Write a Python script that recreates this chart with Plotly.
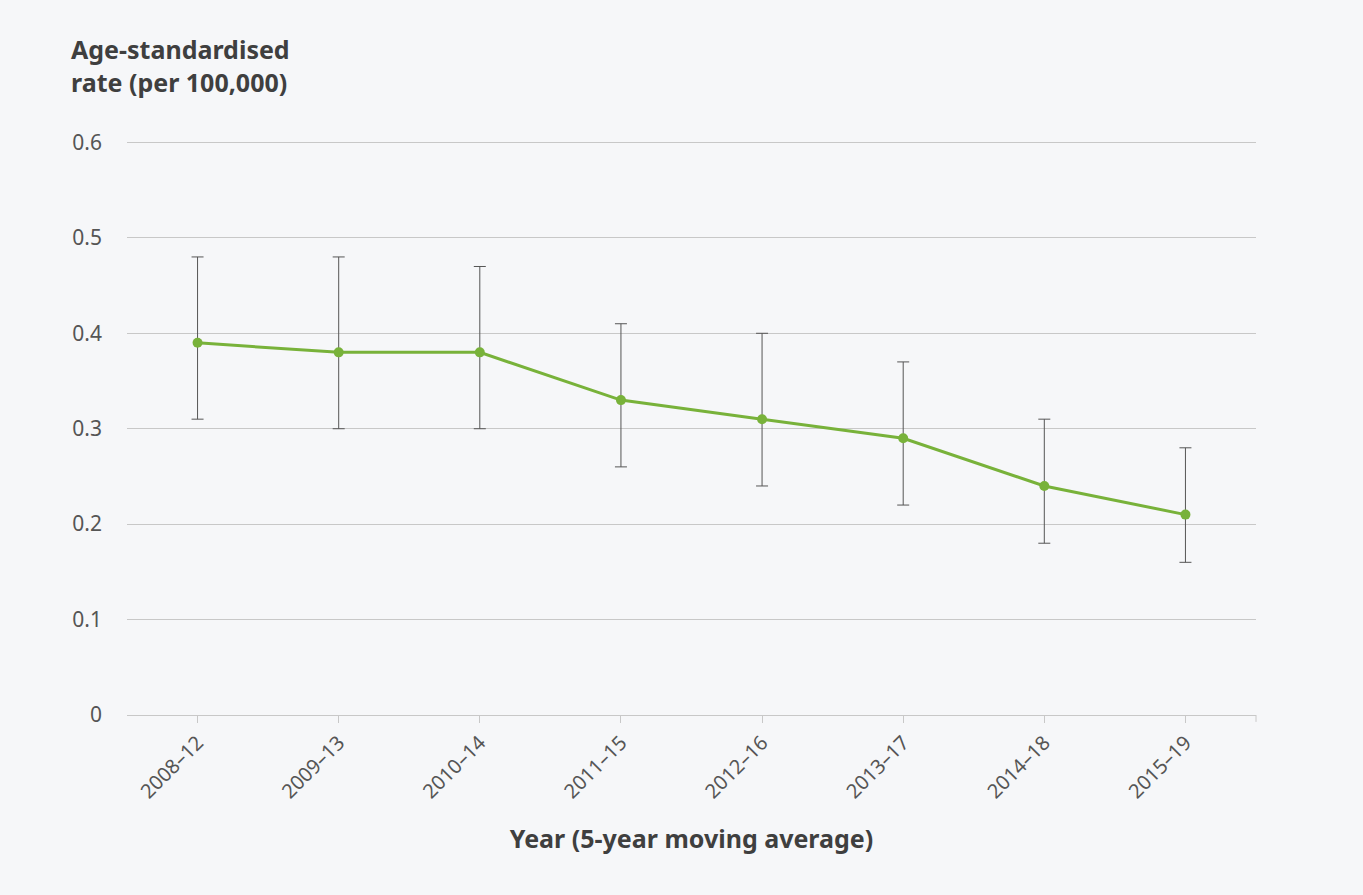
import plotly.graph_objects as go

# Five-year moving-average periods and age-standardised rates (per 100,000)
periods = ["2008–12", "2009–13", "2010–14", "2011–15", "2012–16", "2013–17", "2014–18", "2015–19"]
rate = [0.39, 0.38, 0.38, 0.33, 0.31, 0.29, 0.24, 0.21]
upper_ci = [0.48, 0.48, 0.47, 0.41, 0.40, 0.37, 0.31, 0.28]
lower_ci = [0.31, 0.30, 0.30, 0.26, 0.24, 0.22, 0.18, 0.16]
y_ticks = [0, 0.1, 0.2, 0.3, 0.4, 0.5, 0.6]

err_plus = [u - r for u, r in zip(upper_ci, rate)]
err_minus = [r - l for r, l in zip(rate, lower_ci)]

BG = "#f6f7f9"
GREEN = "#78b23a"
TEXT = "#555555"
TITLE = "#3f3f3f"
FONT = "Noto Sans"

fig = go.Figure()
fig.add_trace(go.Scatter(
    x=periods,
    y=rate,
    mode="lines+markers",
    line=dict(color=GREEN, width=3),
    marker=dict(color=GREEN, size=10),
    error_y=dict(
        type="data",
        symmetric=False,
        array=err_plus,
        arrayminus=err_minus,
        color="#555555",
        thickness=1,
        width=6,
    ),
    showlegend=False,
    cliponaxis=False,
))

fig.update_layout(
    width=1363,
    height=895,
    paper_bgcolor=BG,
    plot_bgcolor=BG,
    margin=dict(l=127, r=107, t=141, b=180),
    font=dict(family=FONT, color=TEXT, size=20),
    xaxis=dict(
        type="category",
        range=[-0.5, len(periods) - 0.5],
        showgrid=False,
        showline=True,
        linecolor="#c8c8c8",
        linewidth=1,
        ticks="outside",
        ticklen=7,
        tickcolor="#c8c8c8",
        tickangle=-45,
        tickfont=dict(family=FONT, size=20, color=TEXT),
        title=dict(
            text="<b>Year (5-year moving average)</b>",
            font=dict(family=FONT, size=25, color=TITLE),
            standoff=27,
        ),
        zeroline=False,
    ),
    yaxis=dict(
        range=[0, 0.6015],
        tickvals=y_ticks,
        ticktext=[f"{v:g}" for v in y_ticks],
        showgrid=True,
        gridcolor="#c8c8c8",
        gridwidth=1,
        zeroline=False,
        showline=False,
        ticks="",
        ticklabelstandoff=24,
        tickfont=dict(family=FONT, size=21, color=TEXT),
    ),
    annotations=[
        dict(
            text="<b>Age-standardised<br>rate (per 100,000)</b>",
            xref="paper", yref="paper",
            x=-0.051, y=1.0,
            xanchor="left", yanchor="bottom",
            yshift=40,
            align="left",
            showarrow=False,
            font=dict(family=FONT, size=25, color=TITLE),
        )
    ],
    shapes=[
        # closing tick at the right end of the x axis
        dict(type="line", xref="paper", yref="paper",
             x0=1, x1=1, y0=0, y1=-0.012,
             line=dict(color="#c8c8c8", width=1)),
    ],
)

fig.write_html("out.html")
